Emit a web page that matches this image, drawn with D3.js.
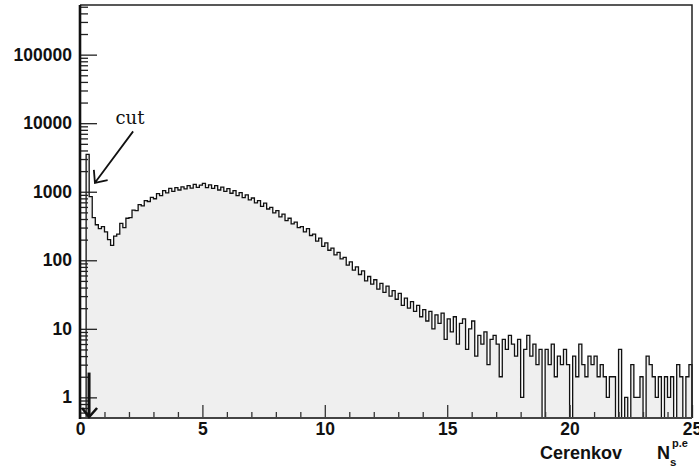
<!DOCTYPE html>
<html>
<head>
<meta charset="utf-8">
<script src="https://cdn.jsdelivr.net/npm/d3@7"></script>
<style>
body { margin: 0; background: #fff; }
text { font-family: "Liberation Sans", Arial, sans-serif; font-weight: bold; fill: #111; }
</style>
</head>
<body>
<svg id="chart" width="699" height="469"></svg>
<script>
// Datos del histograma (bins de 0.125 entre 0 y 25)
var binWidth = 0.125;
var counts = [
    0, 0, 3500, 850, 420, 330, 290, 310, 260, 200,
    165, 225, 240, 345, 300, 410, 420, 540, 530, 650,
    620, 740, 720, 830, 790, 940, 880, 1040, 960, 1120,
    1010, 1150, 1060, 1180, 1100, 1230, 1130, 1280, 1160, 1250,
    1320, 1150, 1260, 1120, 1230, 1060, 1170, 1010, 1110, 950,
    1040, 880, 970, 820, 900, 760, 810, 690, 740, 610,
    680, 560, 590, 490, 530, 430, 470, 380, 410, 340,
    360, 300, 310, 260, 290, 230, 240, 190, 210, 160,
    180, 140, 150, 120, 130, 105, 110, 85, 95, 72,
    80, 62, 70, 50, 58, 45, 52, 38, 46, 34,
    42, 30, 36, 27, 33, 22, 28, 20, 25, 18,
    22, 15, 19, 13, 18, 10, 16, 12, 17, 7,
    14, 9, 15, 6, 12, 14, 5, 10, 13, 4,
    8, 6, 9, 3, 7, 8, 6, 2, 7, 5,
    8, 6, 4, 7, 1, 5, 8, 4, 6, 3,
    5, 0, 5, 3, 6, 2, 4, 3, 5, 3,
    0, 4, 2, 6, 3, 2, 4, 3, 4, 2,
    3, 2, 1, 2, 2, 0, 5, 0, 1, 0,
    3, 1, 1, 2, 0, 4, 3, 2, 1, 2,
    0, 2, 1, 2, 0, 3, 2, 0, 2, 3
];
var xTicks = [0, 5, 10, 15, 20, 25];
var yTicks = [1, 10, 100, 1000, 10000, 100000];
var xDomain = [0, 25];
var yDomain = [0.5, 530000];

// Anotaciones (en unidades de datos)
var cutValue = 0.37;
var cutLabel = {x: 1.45, y: 9600, text: "cut"};
var cutArrow = {x1: 2.17, y1: 7600, x2: 0.61, y2: 1350};
var downArrowTop = 2.3;

var svg = d3.select("#chart"),
    margin = {top: 5, right: 7, bottom: 51, left: 80},
    width = 699 - margin.left - margin.right,
    height = 469 - margin.top - margin.bottom;

var x = d3.scaleLinear().domain(xDomain).range([margin.left, margin.left + width]);
var y = d3.scaleLog().domain(yDomain).range([margin.top + height, margin.top]).clamp(true);
var bottom = margin.top + height;

//Histograma
var line = "M" + x(0) + "," + bottom;
counts.forEach(function(c, i) {
    var yy = c > 0 ? y(c) : bottom;
    line += "L" + x(i * binWidth) + "," + yy + "L" + x((i + 1) * binWidth) + "," + yy;
});
line += "L" + x(xDomain[1]) + "," + bottom;

svg.append("path")
    .attr("d", line + "Z")
    .attr("fill", "#efefef")
    .attr("stroke", "none");

svg.append("path")
    .attr("d", line)
    .attr("fill", "none")
    .attr("stroke", "#111")
    .attr("stroke-width", 1.3);

//Ticks menores
var yMinor = [];
for (var k = -1; k <= 5; k++) {
    for (var m = 2; m <= 9; m++) {
        var v = m * Math.pow(10, k);
        if (v > yDomain[0] && v < yDomain[1]) yMinor.push(v);
    }
}
var xMinor = d3.range(0, 26).filter(function(d) { return d % 5 != 0; });

svg.append("g")
    .attr("transform", "translate(" + margin.left + ",0)")
    .call(d3.axisLeft(y).tickValues(yMinor).tickSizeInner(-8).tickSizeOuter(0).tickFormat(""))
    .call(function(g) { g.select(".domain").remove(); })
    .selectAll("line").attr("stroke", "#222").attr("stroke-width", 1.3);

svg.append("g")
    .attr("transform", "translate(" + margin.left + ",0)")
    .call(d3.axisLeft(y).tickValues(yTicks).tickSizeInner(-17).tickSizeOuter(0).tickPadding(8).tickFormat(d3.format("d")))
    .call(function(g) { g.select(".domain").remove(); })
    .call(function(g) {
        g.selectAll("line").attr("stroke", "#222").attr("stroke-width", 1.3);
        g.selectAll("text").attr("font-size", 17.5).attr("font-family", null).attr("fill", "#111");
    });

svg.append("g")
    .attr("transform", "translate(0," + bottom + ")")
    .call(d3.axisBottom(x).tickValues(xMinor).tickSizeInner(-6).tickSizeOuter(0).tickFormat(""))
    .call(function(g) { g.select(".domain").remove(); })
    .selectAll("line").attr("stroke", "#333").attr("stroke-width", 1.3);

svg.append("g")
    .attr("transform", "translate(0," + bottom + ")")
    .call(d3.axisBottom(x).tickValues(xTicks).tickSizeInner(-13).tickSizeOuter(0).tickPadding(5).tickFormat(d3.format("d")))
    .call(function(g) { g.select(".domain").remove(); })
    .call(function(g) {
        g.selectAll("line").attr("stroke", "#333").attr("stroke-width", 1.3);
        g.selectAll("text").attr("font-size", 17.5).attr("font-family", null).attr("fill", "#111");
    });

//Marco
svg.append("path")
    .attr("d", "M" + x(0) + "," + y(yDomain[1]) + "H" + x(xDomain[1]) + "V" + bottom)
    .attr("fill", "none")
    .attr("stroke", "#222")
    .attr("stroke-width", 1.5);

svg.append("line")
    .attr("x1", x(0)).attr("x2", x(xDomain[1]))
    .attr("y1", bottom).attr("y2", bottom)
    .attr("stroke", "#444")
    .attr("stroke-width", 2.2);

svg.append("line")
    .attr("x1", x(0)).attr("x2", x(0))
    .attr("y1", margin.top).attr("y2", bottom + 1)
    .attr("stroke", "#111")
    .attr("stroke-width", 2.6);

//Titulo eje x
var xt = svg.append("g");
xt.append("text")
    .attr("x", 540).attr("y", 459)
    .attr("font-size", 18)
    .text("Cerenkov");
xt.append("text")
    .attr("x", 657).attr("y", 459)
    .attr("font-size", 18)
    .text("N");
xt.append("text")
    .attr("x", 672).attr("y", 447)
    .attr("font-size", 11)
    .text("p.e");
xt.append("text")
    .attr("x", 670).attr("y", 466)
    .attr("font-size", 11.5)
    .text("s");

//Anotacion del corte
svg.append("text")
    .attr("x", x(cutLabel.x)).attr("y", y(cutLabel.y))
    .style("font-family", "'DejaVu Serif', 'Liberation Serif', serif")
    .style("font-weight", "normal")
    .attr("font-size", 18)
    .text(cutLabel.text);

var ax1 = x(cutArrow.x1), ay1 = y(cutArrow.y1), ax2 = x(cutArrow.x2), ay2 = y(cutArrow.y2);
var ang = Math.atan2(ay1 - ay2, ax1 - ax2);
var head = 13, spread = 0.72;
svg.append("path")
    .attr("d", "M" + ax1 + "," + ay1 + "L" + ax2 + "," + ay2 +
        "M" + (ax2 + head * Math.cos(ang - spread)) + "," + (ay2 + head * Math.sin(ang - spread)) +
        "L" + ax2 + "," + ay2 +
        "L" + (ax2 + head * Math.cos(ang + spread)) + "," + (ay2 + head * Math.sin(ang + spread)))
    .attr("fill", "none")
    .attr("stroke", "#111")
    .attr("stroke-width", 1.8);

var cx = x(cutValue);
svg.append("line")
    .attr("x1", cx).attr("x2", cx)
    .attr("y1", y(downArrowTop)).attr("y2", bottom - 1)
    .attr("stroke", "#111")
    .attr("stroke-width", 3);
svg.append("path")
    .attr("d", "M" + (cx - 7) + "," + (bottom - 10) + "L" + cx + "," + (bottom - 1) + "L" + (cx + 8) + "," + (bottom - 10))
    .attr("fill", "none")
    .attr("stroke", "#111")
    .attr("stroke-width", 2.6);
</script>
</body>
</html>
